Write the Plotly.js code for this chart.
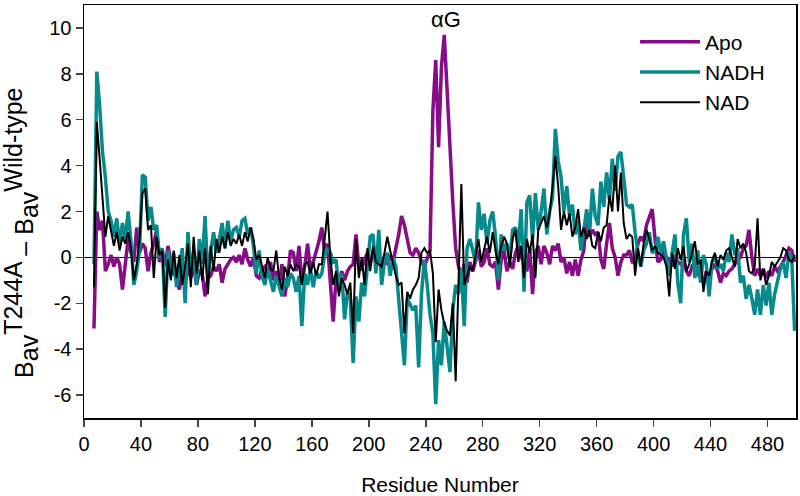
<!DOCTYPE html>
<html>
<head>
<meta charset="utf-8">
<script src="https://cdn.plot.ly/plotly-3.0.1.min.js"></script>
<style>
  html, body { margin: 0; padding: 0; background: #fff; }
  #chart { width: 800px; height: 496px; }
</style>
</head>
<body>
<div id="chart"></div>
<script>
// Residue numbers (sampled every 2 residues)
const residues = [
  7,9,11,13,15,17,19,21,23,25, 27,29,31,33,35,37,39,41,43,45,
  47,49,51,53,55,57,59,61,63,65, 67,69,71,73,75,77,79,81,83,85,
  87,89,91,93,95,97,99,101,103,105, 107,109,111,113,115,117,119,121,123,125,
  127,129,131,133,135,137,139,141,143,145, 147,149,151,153,155,157,159,161,163,165,
  167,169,171,173,175,177,179,181,183,185, 187,189,191,193,195,197,199,201,203,205,
  207,209,211,213,215,217,219,221,223,225, 227,229,231,233,235,237,239,241,243,245,
  247,249,251,253,255,257,259,261,263,265, 267,269,271,273,275,277,279,281,283,285,
  287,289,291,293,295,297,299,301,303,305, 307,309,311,313,315,317,319,321,323,325,
  327,329,331,333,335,337,339,341,343,345, 347,349,351,353,355,357,359,361,363,365,
  367,369,371,373,375,377,379,381,383,385, 387,389,391,393,395,397,399,401,403,405,
  407,409,411,413,415,417,419,421,423,425, 427,429,431,433,435,437,439,441,443,445,
  447,449,451,453,455,457,459,461,463,465, 467,469,471,473,475,477,479,481,483,485,
  487,489,491,493,495,497,499
];

const apo = [
  -3.1, 2.0, 1.2, 1.6, -0.6, -0.3, 0.1, -0.4, 0.0, -0.3,
  -1.4, -0.1, 0.8, 0.2, -0.2, 1.3, 0.2, 0.6, 0.4, -0.6,
  0.2, 0.6, 1.2, -0.2, 0.3, -0.4, 0.5, -0.2, -0.6, -0.9,
  -1.4, -0.6, -1.1, -0.4, -0.9, -0.3, -1.2, -0.6, -0.7, -1.7,
  -0.9, -0.8, -0.4, -0.6, -0.3, -1.1, -0.5, -0.3, -0.1, 0.0,
  -0.2, 0.1, -0.3, 0.4, -0.1, -0.4, 0.0, -0.8, -0.9, -0.5,
  -0.4, -0.8, -0.2, -1.0, -0.6, -1.2, -0.3, -1.7, -0.9, 0.3,
  0.2, -0.6, 0.5, -1.0, -0.4, 0.6, -0.5, -0.2, 0.2, 0.7,
  1.3, 0.2, 0.6, -0.9, -2.8, -0.9, -1.2, -0.6, -1.0, -0.6,
  -0.4, -0.3, 1.0, -0.4, -0.5, -0.1, 0.2, -0.3, 0.3, 0.1,
  0.0, -0.4, -0.1, -0.3, 0.1, -0.2, 0.4, 1.0, 1.8, 1.4,
  0.8, 0.2, 0.1, 0.4, 0.2, -0.2, -0.4, 0.0, 0.3, 6.4,
  8.6, 4.8, 8.3, 9.7, 7.3, 4.4, 2.4, 0.4, -0.4, -0.8,
  -0.3, -1.1, -0.2, -0.6, -0.1, 0.3, -0.4, -0.2, 0.4, -0.3,
  -0.4, -0.2, -1.4, -0.1, 0.3, -0.6, -0.2, -0.5, 0.2, 0.5,
  0.0, -0.2, -0.6, 0.4, -1.6, 0.2, 0.5, -0.3, 0.5, 0.2,
  -0.3, 0.5, 0.3, 0.6, -0.2, 0.0, -0.7, -0.2, -0.8, -0.1,
  -0.8, -0.1, 0.3, 1.9, 0.9, 1.2, 1.0, 1.1, -0.1, -0.5,
  0.6, 1.5, 0.4, 0.0, -0.8, -0.2, 0.1, 0.1, 0.3, -0.2,
  -0.2, 0.6, 0.9, 0.7, 1.4, 1.8, 2.1, 0.8, -0.2, -0.1,
  0.3, 0.0, -0.1, -0.4, 0.1, -0.2, -0.3, -0.1, -0.6, -0.8,
  -0.4, -0.5, -0.7, -0.9, -1.1, -0.6, -0.9, -0.5, -0.3, -0.6,
  -1.1, -0.7, -0.8, -0.6, -0.5, -0.3, -0.1, 0.0, 0.4, 0.5,
  1.2, 0.0, -0.8, -0.5, -0.8, -0.5, -0.9, -0.6, -0.8, -0.4,
  -0.6, -0.4, -0.2, 0.1, 0.4, 0.3, -0.2
];

const nadh = [
  -0.3, 8.1, 6.6, 4.6, 3.5, 2.0, 1.6, 0.9, 1.7, 0.6,
  1.5, 0.8, 2.0, 0.7, -1.2, -0.6, 0.3, 3.6, 3.5, 1.6,
  2.2, 1.2, 1.4, 0.0, 0.4, -2.6, 0.3, -0.8, 0.2, -1.3,
  -0.5, 0.4, -2.0, 1.1, -0.6, 0.2, -1.2, 0.8, -0.3, 1.8,
  -0.9, 0.3, 1.1, 0.2, 0.8, 1.5, 0.4, 1.6, 0.7, 1.2,
  1.3, 0.9, 1.6, 1.7, 1.0, 1.3, 0.5, -0.7, 0.3, -0.8,
  -1.2, -0.5, -1.0, -1.5, -0.8, -1.2, -1.7, -0.9, -1.3, -0.7,
  -0.9, -1.5, -0.8, -3.0, -0.7, -1.2, -0.5, -1.3, -0.6, -0.9,
  -0.7, 0.1, 0.4, 0.2, -0.2, -0.1, -1.4, -0.7, -2.7, -1.5,
  -1.8, -4.6, -1.7, -2.8, -1.1, -1.7, -0.4, 0.9, 1.0, -0.7,
  1.2, -1.2, -0.2, 0.2, -0.8, 0.0, -0.4, -1.8, -3.3, -4.7,
  -1.8, -2.1, -2.3, -2.1, -4.8, -1.6, -0.1, -1.2, -2.5, -3.3,
  -6.4, -3.6, -4.7, -2.8, -4.1, -5.0, -2.3, -1.2, -1.6, -0.5,
  -3.0, 0.4, 0.8, 0.3, -0.2, 2.4, 1.2, 1.9, 0.6, 1.6,
  2.0, 0.9, -1.0, 1.0, 0.3, 0.6, -0.1, 1.2, 1.3, 0.5,
  2.1, -1.5, 2.4, 2.7, 0.8, 2.8, 1.2, 2.0, 3.0, 1.0,
  2.0, 2.6, 5.6, 4.2, 3.5, 2.0, 3.1, 1.8, 2.3, 1.0,
  1.6, 0.3, 1.2, 2.1, 1.0, 3.0, 1.8, 1.4, 3.3, 2.2,
  3.7, 2.5, 4.3, 2.9, 4.4, 4.6, 3.5, 2.3, 2.2, 2.3,
  1.1, 0.2, -0.4, 0.3, 0.6, 1.1, 0.2, 0.3, 0.9, 0.2,
  0.7, 0.0, -0.8, 0.2, 1.0, -1.1, -2.0, 1.0, 1.7, -0.2,
  0.6, -0.9, 0.3, -1.1, 0.1, -0.3, -1.7, -0.2, 0.1, -0.5,
  -0.3, -0.6, 0.2, -0.2, 1.0, 0.1, 0.4, -1.1, -0.8, -1.8,
  -1.2, -1.8, -2.5, -1.4, -2.5, -1.2, -2.1, -1.1, -2.5, -1.6,
  -1.0, -0.5, -0.2, -0.9, 0.2, 0.0, -3.2
];

const nad = [
  -1.3, 5.9, 4.3, 2.4, 0.9, 1.8, 1.2, 0.5, 1.1, 0.3,
  0.9, 0.6, 1.1, 0.4, -1.0, -0.3, 0.8, 2.8, 3.0, 1.2,
  1.4, -0.9, 0.9, 0.1, 0.3, -2.2, -0.1, -1.0, 0.3, -0.9,
  0.1, -1.2, -0.4, 0.6, -1.3, 0.9, -0.7, 0.3, -1.0, 0.4,
  -1.6, 0.5, -0.6, 0.8, 0.2, 0.9, 0.4, 1.1, 0.5, 0.8,
  0.6, 1.0, 0.5, 1.1, 0.7, 1.3, 0.8, -0.1, 0.1, -0.4,
  -0.9, 0.0, -0.5, -0.6, 0.3, -0.9, -1.4, -0.4, -0.8, -0.3,
  -0.6, -0.3, -0.4, -1.2, -0.3, -0.2, -0.7, -0.2, -0.8, -0.3,
  -0.3, 0.8, 2.0, 0.0, -1.2, -0.6, -1.7, -0.9, -1.2, -1.6,
  -1.1, -3.3, 0.8, -0.9, 0.0, -1.2, 0.4, -0.6, 0.5, -0.2,
  -0.3, -0.4, 0.2, 0.9, 0.3, -0.3, -0.8, -1.2, -1.1, -3.3,
  -1.5, -1.8, -1.4, -1.2, -0.9, 0.2, 0.4, 0.2, 0.3, -0.7,
  -3.7, -1.4, -2.3, -2.9, -3.2, -3.4, -2.0, -5.4, -1.0, 3.2,
  -1.2, -0.8, -0.4, -0.6, 0.2, 0.8, -0.2, 0.4, 0.9, 0.2,
  1.1, 0.3, -0.3, 0.5, 0.9, 0.6, -0.4, 0.8, 1.2, -0.2,
  0.5, -0.9, 0.8, 0.2, 1.0, -0.9, 1.2, 1.5, 1.8, 1.3,
  1.9, 3.1, 4.4, 3.1, 1.2, 2.0, 1.4, 1.9, 0.9, 1.3,
  2.1, 0.9, 1.3, 0.8, 1.2, 0.5, 0.4, 1.1, 0.7, 1.3,
  1.4, 2.7, 2.0, 4.0, 2.0, 3.7, 1.5, 0.8, 1.0, 0.9,
  -0.8, 0.4, -0.4, 0.6, 1.2, 0.8, 0.3, 0.5, 0.2, 0.1,
  0.0, -0.4, -1.7, 0.2, -0.5, 0.4, -0.1, 0.5, -0.6, -0.3,
  0.2, 0.7, -0.3, -0.1, -1.5, -0.6, -0.8, -0.2, 0.2, -0.4,
  0.1, -0.1, 0.3, 0.4, 0.0, -0.4, 0.8, 0.4, 0.6, 0.2,
  -0.6, -0.7, -0.4, 1.7, -1.0, -0.5, -1.2, -0.8, -0.2, -0.4,
  -0.2, 0.0, 0.4, 0.3, -0.1, -0.2, 0.1
];

const seriesNames = ['Apo', 'NADH', 'NAD'];
const xTickVals = [0, 40, 80, 120, 160, 200, 240, 280, 320, 360, 400, 440, 480];
const xTickText = ['0', '40', '80', '120', '160', '200', '240', '280', '320', '360', '400', '440', '480'];
const yTickVals = [-6, -4, -2, 0, 2, 4, 6, 8, 10];
const yTickText = ['-6', '-4', '-2', '0', '2', '4', '6', '8', '10'];
const helixLabel = 'αG';
const helixPos = [254, 10.35];

const FONT = '"Liberation Sans", Arial, Helvetica, sans-serif';
const big = s => '<span style="font-size:25px">' + s + '</span>';
const yTitle = 'B<sub>' + big('av') + '</sub><sup>' + big('T244A') + '</sup> – B<sub>' + big('av') +
  '</sub><sup>' + big('Wild-type') + '</sup>';

const traces = [
  { x: residues, y: apo,  name: seriesNames[0], type: 'scatter', mode: 'lines', line: { color: '#870c87', width: 3.5 } },
  { x: residues, y: nadh, name: seriesNames[1], type: 'scatter', mode: 'lines', line: { color: '#078a8c', width: 3.5 } },
  { x: residues, y: nad,  name: seriesNames[2], type: 'scatter', mode: 'lines', line: { color: '#000000', width: 2 } }
];

const layout = {
  width: 800, height: 496,
  margin: { l: 84, r: 4, t: 5, b: 78 },
  paper_bgcolor: '#fff', plot_bgcolor: '#fff',
  font: { family: FONT, color: '#000', size: 20 },
  showlegend: true,
  legend: {
    x: 0.774, y: 0.96, xanchor: 'left', yanchor: 'top',
    bgcolor: 'rgba(0,0,0,0)', borderwidth: 0,
    font: { family: FONT, size: 21, color: '#000' },
    itemwidth: 60
  },
  xaxis: {
    range: [0, 500], tickvals: xTickVals, ticktext: xTickText, ticks: 'outside', ticklen: 7, tickwidth: 1.5,
    showline: true, linecolor: '#000', linewidth: 1.5, mirror: true,
    showgrid: false, zeroline: false,
    tickfont: { family: FONT, size: 20 },
    title: { text: 'Residue Number', font: { family: FONT, size: 21 }, standoff: 25 }
  },
  yaxis: {
    range: [-7, 11], tickvals: yTickVals, ticktext: yTickText, ticks: 'outside', ticklen: 7, tickwidth: 1.5,
    showline: true, linecolor: '#000', linewidth: 1.5, mirror: true,
    showgrid: false, zeroline: true, zerolinecolor: '#000', zerolinewidth: 1.5,
    tickfont: { family: FONT, size: 20 }
  },
  annotations: [
    { x: helixPos[0], y: helixPos[1], xref: 'x', yref: 'y', text: helixLabel, showarrow: false,
      font: { family: FONT, size: 22, color: '#000' } },
    // y-axis title, placed as in the reference (lower than the plot centre)
    { x: -0.0885, y: 0.448, xref: 'paper', yref: 'paper', xanchor: 'center', yanchor: 'middle',
      text: yTitle, textangle: -90, showarrow: false,
      font: { family: FONT, size: 25, color: '#000' } }
  ]
};

Plotly.newPlot('chart', traces, layout, { displayModeBar: false, staticPlot: true });
</script>
</body>
</html>
